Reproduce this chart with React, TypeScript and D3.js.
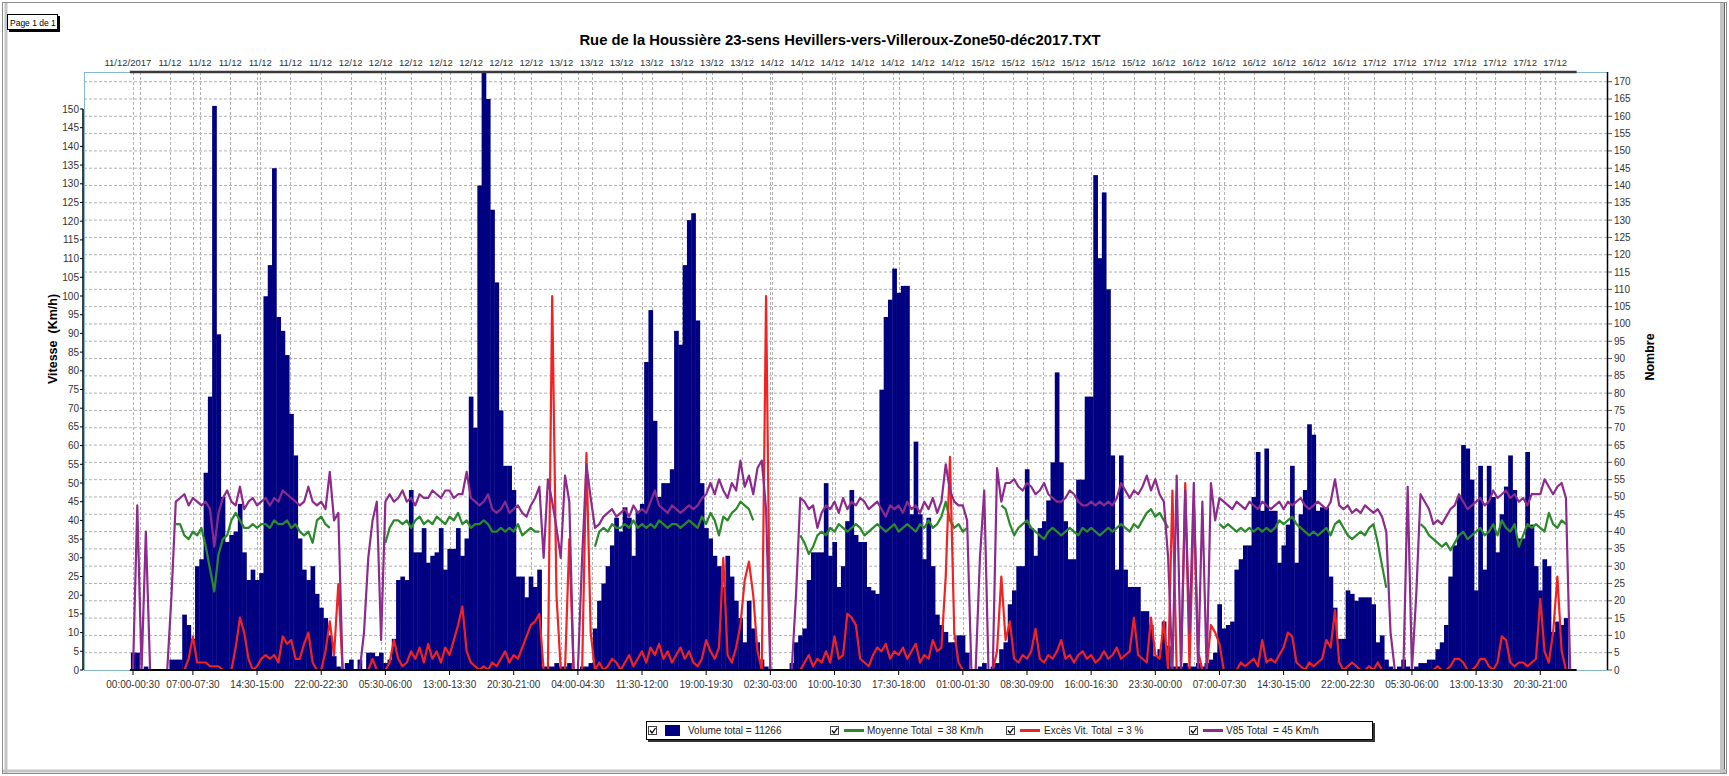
import React, { useEffect, useRef } from "react";
import * as d3 from "d3";

const WIDTH = 1729;
const HEIGHT = 776;
const FONT = "'Liberation Sans', Arial, Helvetica, sans-serif";

const chartTitle = "Rue de la Houssière 23-sens Hevillers-vers-Villeroux-Zone50-déc2017.TXT";

// date labels on top, one every ~7 half-hours
const topLabels = [
  "11/12/2017", "11/12", "11/12", "11/12", "11/12", "11/12", "11/12",
  "12/12", "12/12", "12/12", "12/12", "12/12", "12/12", "12/12",
  "13/12", "13/12", "13/12", "13/12", "13/12", "13/12", "13/12",
  "14/12", "14/12", "14/12", "14/12", "14/12", "14/12", "14/12",
  "15/12", "15/12", "15/12", "15/12", "15/12", "15/12",
  "16/12", "16/12", "16/12", "16/12", "16/12", "16/12", "16/12",
  "17/12", "17/12", "17/12", "17/12", "17/12", "17/12", "17/12",
];

const timeLabels = [
  "00:00-00:30", "07:00-07:30", "14:30-15:00", "22:00-22:30", "05:30-06:00", "13:00-13:30",
  "20:30-21:00", "04:00-04:30", "11:30-12:00", "19:00-19:30", "02:30-03:00", "10:00-10:30",
  "17:30-18:00", "01:00-01:30", "08:30-09:00", "16:00-16:30", "23:30-00:00", "07:00-07:30",
  "14:30-15:00", "22:00-22:30", "05:30-06:00", "13:00-13:30", "20:30-21:00",
];

// half-hour slots, 48 a day, 11/12 00:00 -> 17/12 23:30, then 18/12 00:00
const volume = [
  5, 5, 0, 1, 0, 0, 0, 0, 0, 3, 3, 3, 16, 13, 9, 30, 32, 57, 79, 163, 97, 50, 37, 39, 40, 48, 34, 26, 29, 26, 28, 108, 117, 145, 102, 98, 91, 74, 62, 38, 29, 26, 30, 22, 18, 15, 10, 4,
  1, 0, 2, 3, 0, 3, 0, 5, 5, 4, 5, 2, 3, 9, 26, 27, 26, 52, 34, 34, 41, 31, 33, 34, 41, 29, 35, 35, 41, 33, 38, 79, 70, 140, 175, 165, 133, 112, 75, 59, 59, 52, 27, 27, 21, 27, 24, 29,
  1, 1, 1, 2, 1, 1, 2, 0, 0, 1, 1, 2, 12, 20, 25, 30, 36, 44, 40, 47, 44, 33, 46, 48, 89, 104, 72, 50, 54, 54, 58, 98, 94, 117, 130, 132, 101, 54, 41, 38, 33, 30, 24, 33, 27, 20, 15, 8,
  20, 12, 8, 3, 1, 0, 0, 0, 0, 0, 2, 8, 10, 12, 26, 34, 34, 34, 54, 33, 37, 24, 30, 43, 52, 39, 37, 37, 24, 23, 22, 81, 102, 107, 116, 109, 111, 111, 45, 66, 45, 32, 44, 30, 16, 13, 11, 8,
  8, 10, 10, 5, 0, 0, 1, 2, 0, 1, 2, 6, 8, 19, 23, 30, 30, 58, 41, 33, 41, 43, 49, 60, 86, 60, 43, 32, 32, 55, 55, 79, 79, 143, 119, 138, 110, 62, 29, 62, 29, 24, 24, 24, 17, 17, 13, 4,
  6, 14, 7, 1, 1, 1, 2, 1, 1, 2, 1, 2, 3, 5, 19, 12, 13, 14, 29, 32, 36, 36, 50, 63, 46, 64, 46, 46, 31, 36, 42, 59, 31, 45, 52, 71, 68, 46, 47, 47, 27, 18, 9, 9, 23, 22, 20, 21,
  21, 21, 19, 8, 10, 3, 1, 0, 1, 3, 1, 0, 1, 2, 2, 3, 3, 6, 8, 13, 27, 36, 50, 65, 64, 55, 23, 59, 29, 59, 50, 34, 45, 53, 62, 52, 38, 38, 63, 42, 30, 23, 32, 30, 11, 14, 13, 15,
  0,
];

const _ = null;
const moyenne: (number | null)[] = [
  _, _, _, _, _, _, _, _, _, _, 39, 39, 36, 35, 37, 36, 38, 33, 27, 21, 31, 35, 36, 40, 42, 40, 38, 38, 39, 38, 39, 39, 38, 40, 39, 39, 40, 38, 39, 37, 36, 37, 34, 40, 41, 39, 38, _,
  _, _, _, _, _, _, _, _, _, _, _, 34, 38, 40, 40, 39, 40, 38, 40, 41, 39, 40, 39, 41, 40, 39, 41, 40, 42, 39, 40, 38, 39, 39, 40, 39, 37, 37, 38, 37, 38, 37, 39, 36, 37, 38, 37, 37,
  _, _, _, _, _, _, _, _, _, _, _, _, 33, 37, 38, 37, 39, 38, 38, 39, 38, 40, 38, 39, 38, 39, 38, 40, 39, 38, 39, 39, 38, 39, 40, 39, 38, 41, 39, 42, 40, 36, 41, 40, 42, 43, 45, 44,
  43, 40, _, _, _, _, _, _, _, _, _, _, 36, 34, 31, 33, 36, 37, 36, 38, 37, 39, 38, 37, 38, 39, 38, 36, 37, 38, 39, 38, 37, 38, 39, 37, 38, 39, 38, 37, 39, 38, 40, 38, 39, 41, 45, 40,
  38, 39, 37, 38, _, _, _, _, _, _, _, 44, 43, 39, 36, 38, 39, 40, 38, 37, 36, 35, 37, 38, 37, 36, 37, 38, 37, 36, 38, 37, 38, 37, 36, 37, 38, 37, 38, 39, 38, 37, 39, 38, 40, 42, 43, 41,
  42, 40, 38, _, _, _, _, _, _, _, _, _, _, _, 39, 38, 39, 38, 37, 38, 37, 38, 37, 38, 37, 38, 37, 38, 40, 39, 40, 41, 39, 38, 37, 36, 37, 36, 37, 38, 36, 39, 40, 38, 36, 35, 36, 37,
  36, 38, 39, 34, 28, 22, _, _, _, _, _, _, _, 39, 38, 36, 35, 34, 33, 34, 32, 34, 36, 37, 35, 36, 37, 38, 36, 37, 39, 36, 40, 38, 37, 39, 33, 36, 39, 38, 39, 38, 37, 42, 39, 38, 40, 39,
  _,
];

const exces = [
  0, 0, 0, 0, 0, 0, 0, 0, 0, 0, 0, 0, 0, 3, 9, 2, 2, 2, 1, 1, 1, 0, 0, 0, 6, 14, 10, 3, 0, 1, 3, 4, 3, 4, 2, 9, 7, 8, 3, 3, 7, 10, 2, 0, 0, 5, 13, 4,
  23, 0, 0, 0, 0, 0, 0, 0, 3, 0, 0, 0, 2, 8, 3, 1, 2, 5, 3, 6, 2, 7, 3, 5, 2, 6, 4, 8, 12, 17, 5, 2, 1, 0, 1, 0, 2, 1, 3, 5, 2, 4, 3, 6, 9, 12, 13, 15,
  0, 0, 100, 20, 0, 0, 35, 0, 0, 0, 58, 10, 0, 2, 0, 1, 3, 2, 0, 2, 4, 1, 3, 5, 2, 6, 4, 7, 3, 5, 2, 4, 6, 3, 5, 2, 1, 3, 8, 5, 3, 6, 30, 4, 2, 6, 12, 24,
  29, 20, 5, 0, 100, 0, 0, 0, 0, 0, 0, 0, 0, 2, 4, 1, 3, 2, 5, 2, 9, 3, 4, 15, 14, 12, 3, 2, 1, 4, 6, 5, 7, 3, 5, 4, 6, 3, 5, 7, 2, 4, 3, 8, 5, 6, 25, 57,
  10, 2, 0, 0, 0, 0, 0, 0, 0, 0, 5, 25, 8, 13, 3, 2, 4, 3, 5, 11, 3, 2, 4, 3, 5, 8, 3, 4, 2, 4, 5, 3, 4, 2, 3, 5, 3, 4, 6, 3, 4, 5, 14, 4, 3, 2, 14, 4,
  3, 13, 0, 48, 0, 0, 50, 0, 45, 5, 0, 0, 12, 10, 7, 0, 0, 0, 0, 2, 1, 2, 3, 1, 8, 2, 3, 2, 4, 6, 10, 9, 2, 1, 0, 2, 1, 2, 3, 8, 6, 16, 2, 0, 1, 2, 1, 0,
  0, 1, 0, 2, 0, 0, 0, 0, 0, 0, 0, 0, 0, 0, 0, 0, 0, 1, 0, 0, 1, 3, 3, 2, 0, 0, 1, 3, 3, 1, 0, 2, 9, 8, 2, 1, 2, 2, 1, 2, 3, 19, 5, 2, 10, 25, 5, 0,
  0,
];

const v85 = [
  0, 44, 0, 37, 0, 0, 0, 0, 0, 20, 45, 46, 47, 44, 46, 45, 44, 45, 43, 33, 42, 46, 48, 45, 44, 49, 43, 45, 46, 44, 45, 46, 44, 46, 45, 48, 47, 46, 45, 44, 45, 49, 45, 44, 45, 43, 53, 40,
  42, 0, 0, 0, 0, 0, 10, 30, 40, 45, 8, 45, 47, 45, 46, 48, 45, 46, 44, 47, 46, 46, 48, 47, 46, 48, 48, 46, 47, 47, 53, 46, 45, 44, 45, 47, 43, 42, 43, 45, 42, 43, 44, 42, 41, 44, 46, 49,
  30, 51, 45, 38, 30, 52, 45, 0, 0, 30, 55, 46, 38, 39, 41, 42, 43, 41, 42, 43, 41, 44, 42, 43, 42, 45, 48, 44, 43, 42, 44, 43, 42, 43, 44, 43, 44, 46, 47, 50, 47, 51, 48, 46, 50, 48, 56, 49,
  52, 47, 54, 56, 43, 0, 0, 0, 0, 0, 0, 20, 46, 45, 43, 44, 38, 42, 44, 43, 45, 42, 46, 43, 45, 44, 46, 45, 43, 44, 45, 43, 41, 44, 43, 44, 42, 45, 43, 44, 42, 45, 43, 46, 42, 45, 55, 48,
  45, 44, 44, 40, 0, 0, 30, 48, 0, 0, 54, 45, 50, 50, 51, 49, 48, 50, 49, 47, 48, 50, 47, 46, 45, 45, 46, 48, 47, 45, 44, 44, 45, 44, 45, 44, 45, 44, 46, 50, 48, 46, 48, 47, 49, 52, 48, 51,
  47, 45, 30, 0, 52, 0, 48, 10, 50, 0, 45, 0, 50, 40, 46, 45, 44, 43, 45, 44, 43, 45, 44, 43, 45, 44, 43, 44, 45, 43, 45, 44, 45, 46, 44, 43, 44, 45, 44, 43, 45, 51, 44, 43, 44, 42, 43, 42,
  44, 43, 42, 43, 41, 37, 10, 0, 0, 0, 49, 0, 20, 47, 45, 43, 39, 40, 39, 41, 43, 44, 47, 45, 43, 44, 45, 46, 44, 45, 48, 46, 47, 48, 46, 47, 45, 46, 44, 47, 47, 47, 51, 49, 47, 49, 50, 46,
  0,
];

const legendLabels = [
  "Volume total = 11266",
  "Moyenne Total  = 38 Km/h",
  "Excès Vit. Total  = 3 %",
  "V85 Total  = 45 Km/h",
];

const BAR = "#000080";
const GREEN = "#2a8a2a";
const RED = "#f02222";
const PURPLE = "#8c2a8e";

export default function App() {
  const ref = useRef<SVGSVGElement>(null);

  useEffect(() => {
    const svg = d3.select(ref.current);
    svg.selectAll("*").remove();

    const left = 84, right = 1607, top = 72, bottom = 670;
    const x = d3.scaleLinear().domain([-11.46, 344.6]).range([left, right]);
    const yL = d3.scaleLinear().domain([0, 160]).range([bottom, 71.6]);
    const yR = d3.scaleLinear().domain([0, 172.8]).range([bottom, top]);
    const step = x(1) - x(0);

    // page frame
    svg.append("rect").attr("width", WIDTH).attr("height", HEIGHT).attr("fill", "#fff");
    svg.append("rect").attr("x", 2.5).attr("y", 2.5).attr("width", WIDTH - 5).attr("height", HEIGHT - 5)
      .attr("fill", "none").attr("stroke", "#8c8c8c");
    svg.append("line").attr("x1", 6).attr("x2", 6).attr("y1", 3).attr("y2", HEIGHT - 3)
      .attr("stroke", "#c4c4c4").attr("stroke-width", 3);
    svg.append("line").attr("x1", 1722).attr("x2", 1722).attr("y1", 3).attr("y2", HEIGHT - 3)
      .attr("stroke", "#c4c4c4").attr("stroke-width", 4);
    svg.append("line").attr("x1", 1724.5).attr("x2", 1724.5).attr("y1", 3).attr("y2", HEIGHT - 3)
      .attr("stroke", "#666");
    svg.append("line").attr("x1", 3).attr("x2", WIDTH - 3).attr("y1", 771).attr("y2", 771)
      .attr("stroke", "#c4c4c4").attr("stroke-width", 3);

    // "Page 1 de 1" box
    svg.append("rect").attr("x", 7.5).attr("y", 14.5).attr("width", 50).attr("height", 15)
      .attr("fill", "#fff").attr("stroke", "#000");
    svg.append("path").attr("d", "M59,16V31H9").attr("fill", "none").attr("stroke", "#000").attr("stroke-width", 2);
    svg.append("text").attr("x", 10).attr("y", 25.5).text("Page 1 de 1")
      .attr("font-family", FONT).attr("font-size", 8.5).attr("fill", "#000");

    // title
    svg.append("text").attr("x", 840).attr("y", 45).attr("text-anchor", "middle")
      .attr("font-family", FONT).attr("font-size", 14.8).attr("font-weight", "bold").text(chartTitle);

    // grid
    const grid = svg.append("g").attr("stroke", "#b2b2b2").attr("stroke-dasharray", "3,2");
    d3.range(5, 171, 5).forEach((v) => {
      grid.append("line").attr("x1", left).attr("x2", right).attr("y1", yR(v)).attr("y2", yR(v));
    });
    const topSlot = (k: number) => 1.6 + k * 7.04;
    let day = 0, prev = -1;
    const timeSlots = timeLabels.map((l) => {
      const [h, m] = l.slice(0, 5).split(":").map(Number);
      const s = h * 2 + m / 30;
      if (s < prev) day++;
      prev = s;
      return day * 48 + s;
    });
    topLabels.forEach((_, k) => {
      const xx = Math.round(x(topSlot(k))) + 0.5;
      grid.append("line").attr("x1", xx).attr("x2", xx).attr("y1", top).attr("y2", bottom);
    });
    timeSlots.forEach((s) => {
      const xx = Math.round(x(s)) + 0.5;
      grid.append("line").attr("x1", xx).attr("x2", xx).attr("y1", top).attr("y2", bottom);
    });

    // plot border
    svg.append("rect").attr("x", left + 0.5).attr("y", top + 0.5).attr("width", right - left).attr("height", bottom - top)
      .attr("fill", "none").attr("stroke", "#86b9cf");

    svg.append("clipPath").attr("id", "plotclip").append("rect")
      .attr("x", left).attr("y", top).attr("width", right - left).attr("height", bottom - top);
    const plot = svg.append("g").attr("clip-path", "url(#plotclip)");

    // bars
    plot.append("g").selectAll("rect")
      .data(volume.map((v, i) => ({ v, i })).filter((d) => d.v > 0))
      .join("rect")
      .attr("x", (d) => x(d.i) - step / 2)
      .attr("width", step + 0.4)
      .attr("y", (d) => yR(d.v))
      .attr("height", (d) => bottom - yR(d.v))
      .attr("fill", BAR);

    const line = d3.line<number | null>()
      .defined((d) => d !== null)
      .x((_, i) => x(i))
      .y((d) => yL(d as number));

    plot.append("path").attr("d", line(moyenne)).attr("fill", "none").attr("stroke", GREEN)
      .attr("stroke-width", 2.2).attr("stroke-linejoin", "round");
    plot.append("path").attr("d", line(exces)).attr("fill", "none").attr("stroke", RED)
      .attr("stroke-width", 2.2).attr("stroke-linejoin", "round");
    plot.append("path").attr("d", line(v85)).attr("fill", "none").attr("stroke", PURPLE)
      .attr("stroke-width", 2.2).attr("stroke-linejoin", "round");

    // top and bottom dark lines over the data span
    svg.append("line").attr("x1", x(-0.75)).attr("x2", x(337.5)).attr("y1", top).attr("y2", top)
      .attr("stroke", "#3a3a3a").attr("stroke-width", 2.5);
    svg.append("line").attr("x1", x(-0.75)).attr("x2", x(337.5)).attr("y1", bottom).attr("y2", bottom)
      .attr("stroke", "#000").attr("stroke-width", 2);

    // left axis
    svg.append("line").attr("x1", 83).attr("x2", 83).attr("y1", yL(150)).attr("y2", bottom)
      .attr("stroke", "#000").attr("stroke-width", 1.5);
    const la = svg.append("g").attr("font-family", FONT).attr("font-size", 10).attr("fill", "#333");
    d3.range(0, 151, 5).forEach((v) => {
      la.append("line").attr("x1", 80).attr("x2", 83).attr("y1", yL(v)).attr("y2", yL(v)).attr("stroke", "#000");
      la.append("text").attr("x", 79).attr("y", yL(v)).attr("dy", "0.35em").attr("text-anchor", "end").text(v);
    });

    // right axis
    svg.append("line").attr("x1", 1607.5).attr("x2", 1607.5).attr("y1", top).attr("y2", bottom)
      .attr("stroke", "#000").attr("stroke-width", 1.5);
    const ra = svg.append("g").attr("font-family", FONT).attr("font-size", 10).attr("fill", "#333");
    d3.range(0, 171, 5).forEach((v) => {
      ra.append("line").attr("x1", 1608).attr("x2", 1612).attr("y1", yR(v)).attr("y2", yR(v)).attr("stroke", "#555");
      ra.append("text").attr("x", 1614).attr("y", yR(v)).attr("dy", "0.35em").text(v);
    });

    // top date labels
    const tl = svg.append("g").attr("font-family", FONT).attr("font-size", 9.5).attr("fill", "#333").attr("text-anchor", "middle");
    topLabels.forEach((l, k) => {
      tl.append("text").attr("x", x(topSlot(k)) - (k === 0 ? 12 : 0)).attr("y", 66).text(l);
    });

    // bottom time labels
    const bl = svg.append("g").attr("font-family", FONT).attr("font-size", 10).attr("fill", "#333").attr("text-anchor", "middle");
    timeSlots.forEach((s, k) => {
      bl.append("line").attr("x1", x(s)).attr("x2", x(s)).attr("y1", bottom).attr("y2", bottom + 5).attr("stroke", "#000");
      bl.append("text").attr("x", x(s)).attr("y", 688).text(timeLabels[k]);
    });

    // axis titles
    svg.append("text").attr("transform", "translate(57,339) rotate(-90)").attr("text-anchor", "middle")
      .attr("font-family", FONT).attr("font-size", 12.5).attr("font-weight", "bold")
      .style("white-space", "pre").text("Vitesse  (Km/h)");
    svg.append("text").attr("transform", "translate(1654,357) rotate(-90)").attr("text-anchor", "middle")
      .attr("font-family", FONT).attr("font-size", 12.5).attr("font-weight", "bold").text("Nombre");

    // legend
    const lg = svg.append("g");
    lg.append("path").attr("d", "M1374,723V741H648").attr("fill", "none").attr("stroke", "#333").attr("stroke-width", 2);
    lg.append("rect").attr("x", 646.5).attr("y", 721.5).attr("width", 726).attr("height", 18)
      .attr("fill", "#fff").attr("stroke", "#000");
    const boxX = [648, 830, 1006, 1189];
    const keyX = [665, 844, 1020, 1203];
    const textX = [688, 867, 1044, 1226];
    const colors = [BAR, GREEN, RED, PURPLE];
    legendLabels.forEach((label, k) => {
      lg.append("rect").attr("x", boxX[k] + 0.5).attr("y", 726.5).attr("width", 8).attr("height", 8)
        .attr("fill", "#fff").attr("stroke", "#444");
      lg.append("path").attr("d", `M${boxX[k] + 2},730.5l2,2.5l3.5,-5`).attr("fill", "none")
        .attr("stroke", "#000").attr("stroke-width", 1.3);
      if (k === 0) {
        lg.append("rect").attr("x", keyX[k]).attr("y", 725).attr("width", 15).attr("height", 11).attr("fill", colors[k]);
      } else {
        lg.append("line").attr("x1", keyX[k]).attr("x2", keyX[k] + 20).attr("y1", 730.5).attr("y2", 730.5)
          .attr("stroke", colors[k]).attr("stroke-width", 3);
      }
      lg.append("text").attr("x", textX[k]).attr("y", 734).attr("font-family", FONT).attr("font-size", 10)
        .attr("fill", "#222").style("white-space", "pre").text(label);
    });
  }, []);

  return (
    <svg
      ref={ref}
      width={WIDTH}
      height={HEIGHT}
      style={{ position: "absolute", left: 0, top: 0, display: "block" }}
    />
  );
}
